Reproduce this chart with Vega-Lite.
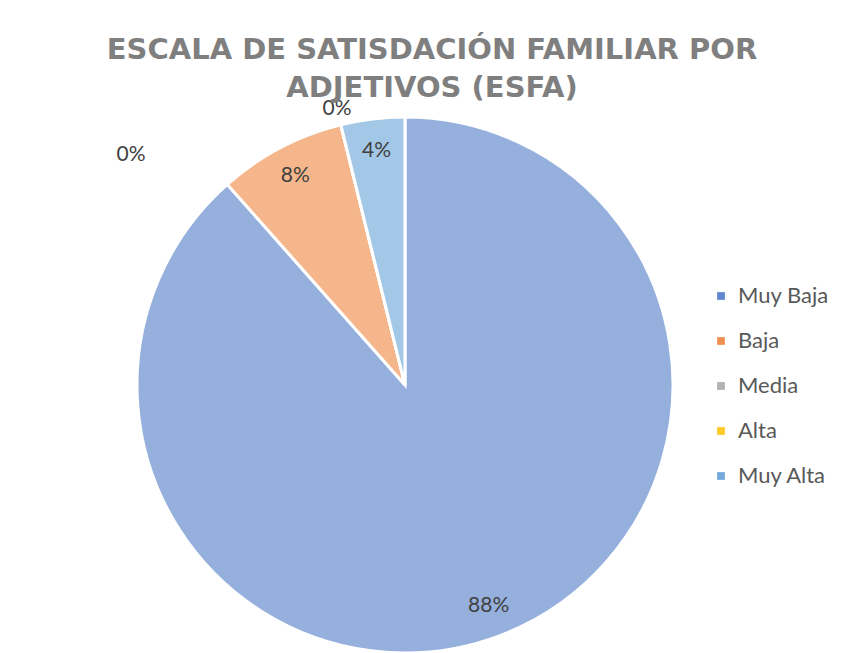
{
  "$schema": "https://vega.github.io/schema/vega-lite/v6.json",
  "width": 790,
  "height": 750,
  "autosize": {"type": "none"},
  "padding": {"left": 10, "top": 10, "right": 49, "bottom": -107},
  "background": "white",
  "config": {"view": {"stroke": null}},
  "title": {
    "text": ["ESCALA DE SATISDACIÓN FAMILIAR POR", "ADJETIVOS (ESFA)"],
    "font": "DejaVu Sans",
    "fontSize": 29,
    "fontWeight": "bold",
    "color": "#7f7f7f",
    "anchor": "middle",
    "baseline": "top",
    "lineHeight": 38,
    "offset": -93,
    "dx": 27
  },
  "data": {
    "values": [
      {"cat": "Muy Baja", "n": 23, "ord": 1, "pct": "88%"},
      {"cat": "Baja", "n": 2, "ord": 2, "pct": "8%"},
      {"cat": "Media", "n": 0, "ord": 3, "pct": "0%"},
      {"cat": "Alta", "n": 0, "ord": 4, "pct": "0%"},
      {"cat": "Muy Alta", "n": 1, "ord": 5, "pct": "4%"}
    ]
  },
  "encoding": {
    "theta": {"field": "n", "type": "quantitative", "stack": true},
    "order": {"field": "ord", "type": "quantitative"}
  },
  "layer": [
    {
      "mark": {"type": "arc", "outerRadius": 268, "stroke": "white", "strokeWidth": 3, "fillOpacity": 0.56},
      "encoding": {
        "color": {
          "field": "cat",
          "type": "nominal",
          "sort": ["Muy Baja", "Baja", "Media", "Alta", "Muy Alta"],
          "scale": {
            "domain": ["Muy Baja", "Baja", "Media", "Alta", "Muy Alta"],
            "range": ["#4472C4", "#ED7D31", "#A5A5A5", "#FFC000", "#5B9BD5"]
          },
          "legend": {
            "title": null,
            "orient": "none",
            "legendX": 700,
            "legendY": 275,
            "symbolType": "square",
            "symbolSize": 60,
            "symbolOpacity": 0.85,
            "symbolStrokeWidth": 0,
            "labelFont": "Lato",
            "labelFontSize": 22,
            "labelColor": "#595959",
            "labelOffset": 6,
            "rowPadding": 23
          }
        }
      }
    },
    {
      "mark": {"type": "text", "radius": 236, "font": "Lato", "fontSize": 21, "color": "#404040"},
      "encoding": {"text": {"condition": {"test": "datum.n > 0", "field": "pct"}, "value": ""}}
    },
    {
      "mark": {"type": "text", "radius": 284, "font": "Lato", "fontSize": 21, "color": "#404040"},
      "encoding": {"text": {"condition": {"test": "datum.cat == 'Alta'", "field": "pct"}, "value": ""}}
    },
    {
      "mark": {"type": "text", "radius": 284, "dx": -206, "dy": 46, "font": "Lato", "fontSize": 21, "color": "#404040"},
      "encoding": {"text": {"condition": {"test": "datum.cat == 'Media'", "field": "pct"}, "value": ""}}
    }
  ]
}
